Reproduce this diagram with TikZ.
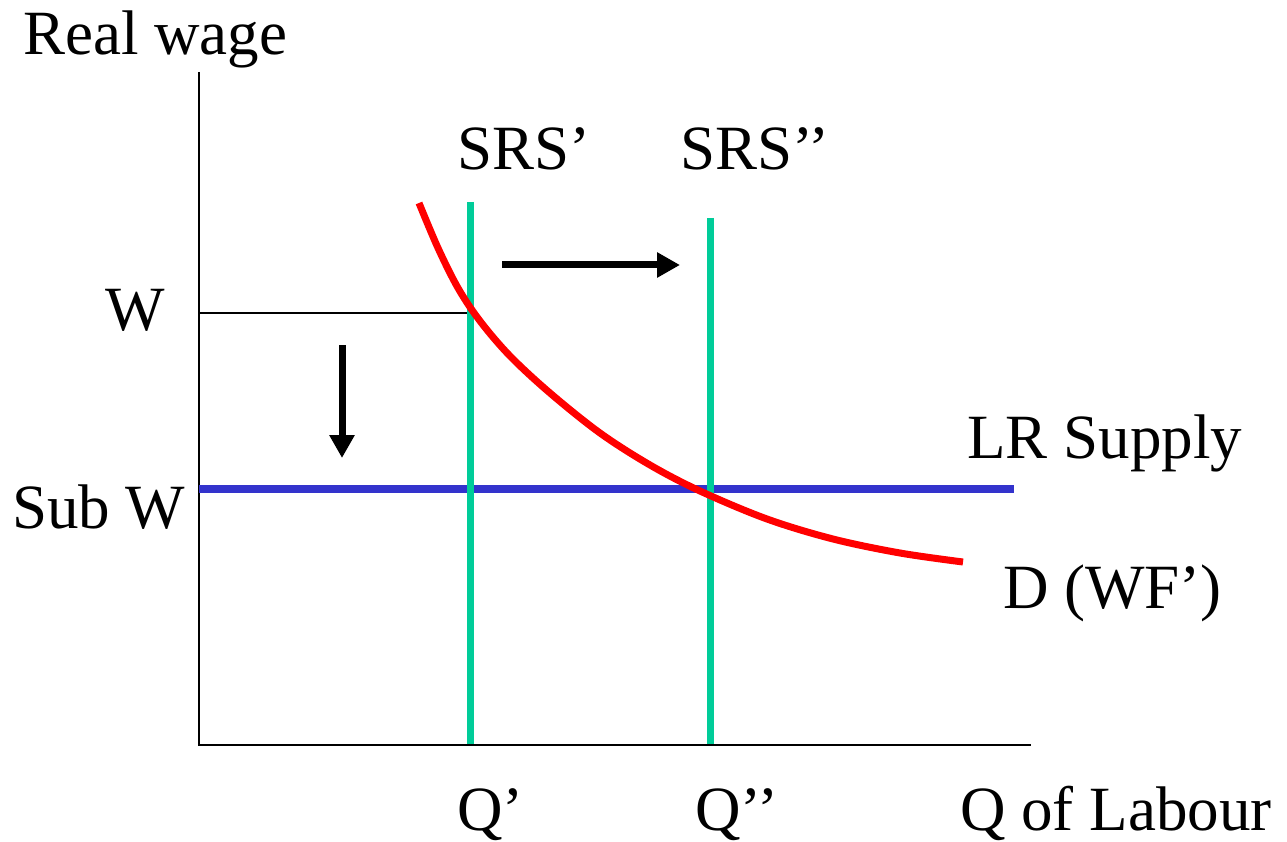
\documentclass[tikz,border=0pt]{standalone}
\usepackage{fontspec}
\setmainfont{Liberation Serif}
\usetikzlibrary{arrows.meta}
\definecolor{srsgreen}{RGB}{0,204,153}
\definecolor{lrblue}{RGB}{51,51,204}
\definecolor{dred}{RGB}{255,0,0}
\begin{document}
\begin{tikzpicture}[x=1pt,y=-1pt,
  lbl/.style={anchor=base west,inner sep=0pt,font=\fontsize{63}{63}\selectfont},
  axisline/.style={line width=2pt,black},
  srsline/.style={line width=7pt,srsgreen},
  lrline/.style={line width=7.5pt,lrblue},
  demand/.style={line width=7pt,dred},
  shiftarrow/.style={line width=7pt,-{Triangle[length=23pt,width=24pt]}}]
\useasboundingbox (0,0) rectangle (1287,842);
% axes
\coordinate (ytop) at (199,72);
\coordinate (origin) at (199,745);
\coordinate (xend) at (1031,745);
\draw[axisline] (ytop) -- (origin) -- (xend);
% W level line
\coordinate (wl) at (199,313);
\coordinate (wr) at (470,313);
\draw[line width=1.5pt] (wl) -- (wr);
% LR supply
\coordinate (lrl) at (199,489);
\coordinate (lrr) at (1014,489);
\draw[lrline] (lrl) -- (lrr);
% SRS lines
\coordinate (s1t) at (470,202);
\coordinate (s1b) at (470,744);
\coordinate (s2t) at (710,218);
\coordinate (s2b) at (710,744);
\draw[srsline] (s1t) -- (s1b);
\draw[srsline] (s2t) -- (s2b);
% demand curve
\draw[demand,line cap=butt] plot[smooth,tension=0.55] coordinates {(419,203) (438,248)
  (458,288) (480,321) (510,356) (550,393) (600,433) (650,465) (700,491)
  (767,519) (833,539) (900,553) (963,562)};
% shift arrows
\coordinate (ra) at (502,265);
\coordinate (rb) at (680,265);
\draw[shiftarrow] (ra) -- (rb);
\coordinate (da) at (342,345);
\coordinate (db) at (342,458);
\draw[shiftarrow] (da) -- (db);
% labels
\node[lbl] (realwage) at (23,55) {Real wage};
\node[lbl] (srs1) at (457,170) {SRS’};
\node[lbl] (srs2) at (680,170) {SRS’’};
\node[lbl] (w) at (105,330) {W};
\node[lbl] (subw) at (12,528) {Sub W};
\node[lbl] (lrs) at (967,458) {LR Supply};
\node[lbl] (dwf) at (1003,608) {D (WF’)};
\node[lbl] (q1) at (457,830) {Q’};
\node[lbl] (q2) at (695,830) {Q’’};
\node[lbl] (qlab) at (960,830) {Q of Labour};
\end{tikzpicture}
\end{document}
